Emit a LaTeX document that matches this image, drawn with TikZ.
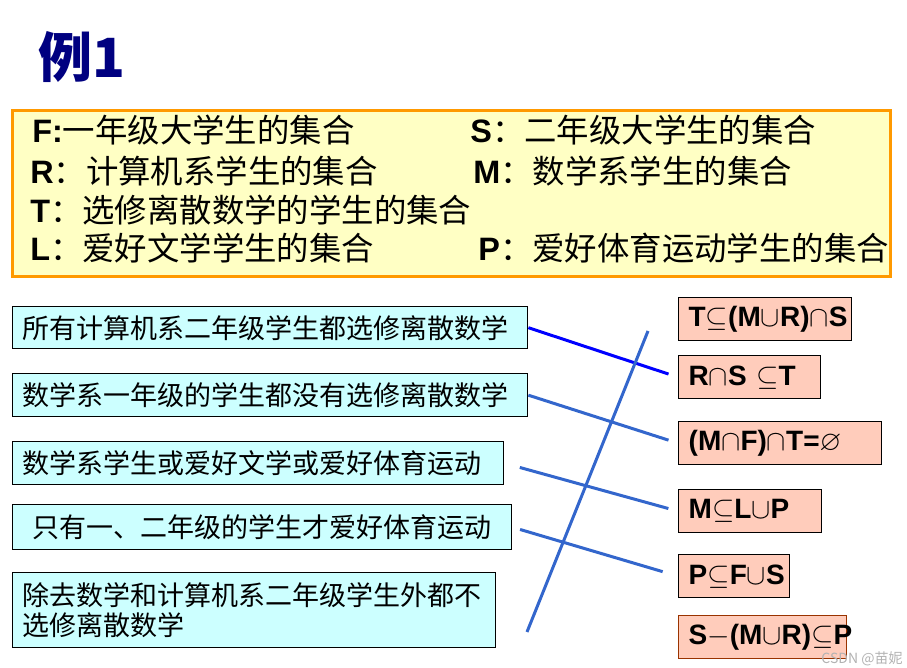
\documentclass[tikz,border=0pt]{standalone}
\usepackage{amssymb}
\usepackage{fontspec}
\setmainfont{Liberation Sans}
\newfontfamily\cjk{Noto Sans CJK SC}
\definecolor{TitleBlue}{HTML}{000080}
\definecolor{NoteYellow}{HTML}{FFFFC4}
\definecolor{NoteOrange}{HTML}{FF9900}
\definecolor{StmtCyan}{HTML}{CCFFFF}
\definecolor{FormSalmon}{HTML}{FFCCBB}
\definecolor{FormBrown}{HTML}{993300}
\definecolor{LinkBlue}{HTML}{3366CC}
\newcommand{\zh}[1]{{\cjk #1}}

\begin{document}
\begin{tikzpicture}[x=0.5pt, y=-0.5pt,
    stmt/.style={draw=black, line width=0.7pt, fill=StmtCyan, anchor=north west,
        inner xsep=5pt, inner ysep=0pt, align=left,
        font=\cjk\fontsize{13.5}{15}\selectfont},
    form/.style={draw=black, line width=0.7pt, fill=FormSalmon, anchor=north west,
        inner xsep=5pt, inner ysep=0pt, minimum height=21.5pt, align=left,
        font=\bfseries\fontsize{14}{15}\selectfont},
    note/.style={anchor=west, inner sep=0pt, font=\fontsize{16.2}{18}\selectfont},
    link/.style={line width=1.5pt, draw=LinkBlue}]

    \useasboundingbox (0,0) rectangle (907,668);

    %Title
    \node[anchor=west, inner sep=0pt, text=TitleBlue,
        font=\cjk\bfseries\fontsize{27}{30}\selectfont] (title) at (38,57) {例1};

    %Definitions of the sets
    \draw[line width=1.5pt, draw=NoteOrange, fill=NoteYellow] (12,111) rectangle (890,277);
    \node[note] (defF) at (32,130) {\textbf{F:}\zh{一年级大学生的集合}};
    \node[note] (defS) at (470,130) {\textbf{S}\zh{：二年级大学生的集合}};
    \node[note] (defR) at (30,171) {\textbf{R}\zh{：计算机系学生的集合}};
    \node[note] (defM) at (473,171) {\textbf{M}\zh{：数学系学生的集合}};
    \node[note] (defT) at (30,210) {\textbf{T}\zh{：选修离散数学的学生的集合}};
    \node[note] (defL) at (30,248) {\textbf{L}\zh{：爱好文学学生的集合}};
    \node[note] (defP) at (478,248) {\textbf{P}\zh{：爱好体育运动学生的集合}};

    %Statements
    \node[stmt, text width=247.5pt, minimum height=21pt] (s1) at (12,306) {所有计算机系二年级学生都选修离散数学};
    \node[stmt, text width=247.5pt, minimum height=21.5pt] (s2) at (12,373) {数学系一年级的学生都没有选修离散数学};
    \node[stmt, text width=235.5pt, minimum height=21.5pt] (s3) at (12,441) {数学系学生或爱好文学或爱好体育运动};
    \node[stmt, text width=239.5pt, minimum height=22.5pt, align=center] (s4) at (12,504) {只有一、二年级的学生才爱好体育运动};
    \node[stmt, text width=231.5pt, minimum height=37.5pt] (s5) at (12,572) {除去数学和计算机系二年级学生外都不\\选修离散数学};

    %Formulas
    \node[form, text width=76.5pt] (f1) at (678,297) {T$\subseteq$(M$\cup$R)$\cap$S};
    \node[form, text width=61pt] (f2) at (678,355) {R$\cap$S $\subseteq$T};
    \node[form, text width=91.5pt] (f3) at (678,421) {(M$\cap$F)$\cap$T=$\varnothing$};
    \node[form, text width=61.5pt] (f4) at (678,489) {M$\subseteq$L$\cup$P};
    \node[form, text width=45.5pt] (f5) at (678,554) {P$\subseteq$F$\cup$S};
    \node[form, text width=74pt, draw=FormBrown] (f6) at (678,615) {S$-$(M$\cup$R)$\subseteq$P};

    %Matching lines
    \draw[link, draw=blue, shorten >=5pt] (s1.east) -- (f2.west);
    \draw[link, shorten >=5pt] (s2.east) -- (f3.west);
    \draw[link, shorten <=8pt, shorten >=5pt] (s3.east) -- (f4.west);
    \draw[link, shorten <=4pt, shorten >=8pt] (s4.east) -- (f5.west);

    %Crossing stroke
    \coordinate (crosstop) at (648,331);
    \coordinate (crossbot) at (527,632);
    \draw[link] (crossbot) -- (crosstop);

    %Watermark
    \node[text=black!30, font=\cjk\fontsize{7}{8}\selectfont] (mark) at (862,659) {CSDN @苗妮};

\end{tikzpicture}
\end{document}
